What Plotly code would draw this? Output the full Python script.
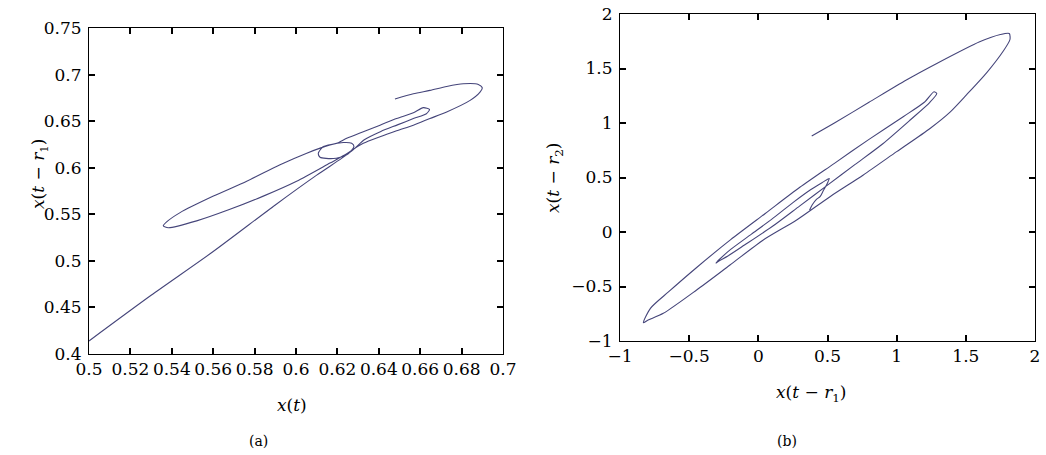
import plotly.graph_objects as go

# ---- Panel (a): x(t) vs x(t - r1) ----
a_x = [0.500, 0.530, 0.560, 0.590, 0.610, 0.622, 0.628,
       0.633, 0.641, 0.649, 0.657, 0.663, 0.6645,
       0.6615, 0.6567, 0.6486, 0.6406, 0.6325, 0.6245, 0.6196,
       0.6132, 0.6108, 0.6116, 0.6180, 0.6245, 0.6280, 0.6269, 0.6229,
       0.6164, 0.6052, 0.5923, 0.5762, 0.5601, 0.5440, 0.5375, 0.5359, 0.5383,
       0.5520, 0.5681, 0.5842, 0.6003, 0.6164, 0.6245, 0.6285,
       0.6325, 0.6406, 0.6486, 0.6567, 0.6647, 0.6728, 0.6841, 0.6889, 0.6900,
       0.6881, 0.6808, 0.6728, 0.6647, 0.6567, 0.6478]
a_y = [0.414, 0.463, 0.510, 0.560, 0.592, 0.610, 0.620,
       0.630, 0.639, 0.646, 0.653, 0.658, 0.6625,
       0.6645, 0.6589, 0.6528, 0.6457, 0.6387, 0.6316, 0.6262,
       0.6227, 0.6156, 0.6113, 0.6099, 0.6138, 0.6227, 0.6262, 0.6270,
       0.6245, 0.6156, 0.6032, 0.5855, 0.5695, 0.5518, 0.5418, 0.5376, 0.5355,
       0.5429, 0.5553, 0.5695, 0.5855, 0.6050, 0.6149, 0.6209,
       0.6262, 0.6333, 0.6397, 0.6457, 0.6528, 0.6599, 0.6723, 0.6812, 0.6858,
       0.6894, 0.6901, 0.6872, 0.6830, 0.6794, 0.6738]

# ---- Panel (b): x(t - r1) vs x(t - r2) ----
b_x = [0.37, 0.39, 0.42, 0.446, 0.47, 0.50, 0.513,
       0.47, 0.38, 0.25, 0.10, -0.05, -0.20, -0.28, -0.306,
       -0.29, -0.22, -0.10, 0.10, 0.30, 0.50, 0.70, 0.90, 1.10, 1.24, 1.29,
       1.27, 1.20, 1.05, 0.80, 0.55, 0.30, 0.05, -0.20, -0.45, -0.65, -0.78, -0.831,
       -0.80, -0.687, -0.446, -0.205, 0.036, 0.277, 0.518, 0.759, 1.00, 1.241, 1.386,
       1.506, 1.650, 1.771, 1.819, 1.814,
       1.75, 1.60, 1.29, 1.07, 0.80, 0.55, 0.386]
b_y = [0.20, 0.25, 0.30, 0.324, 0.38, 0.45, 0.492,
       0.46, 0.39, 0.27, 0.12, -0.02, -0.16, -0.25, -0.285,
       -0.27, -0.22, -0.12, 0.05, 0.24, 0.43, 0.62, 0.81, 1.03, 1.19, 1.27,
       1.287, 1.19, 1.06, 0.85, 0.63, 0.41, 0.17, -0.07, -0.33, -0.55, -0.70, -0.832,
       -0.81, -0.746, -0.532, -0.303, -0.073, 0.110, 0.324, 0.523, 0.737, 0.950, 1.100,
       1.260, 1.460, 1.660, 1.766, 1.821,
       1.812, 1.745, 1.546, 1.394, 1.19, 1.00, 0.881]

a_xticks = [0.5, 0.52, 0.54, 0.56, 0.58, 0.6, 0.62, 0.64, 0.66, 0.68, 0.7]
a_xtext = ["0.5", "0.52", "0.54", "0.56", "0.58", "0.6", "0.62", "0.64", "0.66", "0.68", "0.7"]
a_yticks = [0.4, 0.45, 0.5, 0.55, 0.6, 0.65, 0.7, 0.75]
a_ytext = ["0.4", "0.45", "0.5", "0.55", "0.6", "0.65", "0.7", "0.75"]
b_ticks = [-1, -0.5, 0, 0.5, 1, 1.5, 2]
b_text = ["\u22121", "\u22120.5", "0", "0.5", "1", "1.5", "2"]

FONT = "DejaVu Serif"
LINE = "#45457a"
W, H = 1046, 455

fig = go.Figure()
fig.add_trace(go.Scatter(x=a_x, y=a_y, mode="lines",
                         line=dict(color=LINE, width=1.1, shape="spline", smoothing=0.7),
                         xaxis="x", yaxis="y", showlegend=False, hoverinfo="skip"))
fig.add_trace(go.Scatter(x=b_x, y=b_y, mode="lines",
                         line=dict(color=LINE, width=1.1, shape="spline", smoothing=0.7),
                         xaxis="x2", yaxis="y2", showlegend=False, hoverinfo="skip"))

axis_common = dict(showline=True, linecolor="black", linewidth=1, mirror="allticks",
                   ticks="inside", ticklen=6, tickwidth=1.5, tickcolor="black",
                   showgrid=False, zeroline=False, automargin=False,
                   tickfont=dict(family=FONT, size=17, color="black"))

def px(v):
    return v / W

def py(v):
    return 1 - v / H

fig.update_layout(
    template="none",
    width=W, height=H,
    margin=dict(l=0, r=0, t=0, b=0, pad=0),
    paper_bgcolor="white", plot_bgcolor="white",
    font=dict(family=FONT, size=16, color="black"),
    xaxis=dict(domain=[px(89), px(503)], range=[0.5, 0.7], tickvals=a_xticks, ticktext=a_xtext,
               anchor="y", **axis_common),
    yaxis=dict(domain=[py(354), py(28)], range=[0.4, 0.75], tickvals=a_yticks, ticktext=a_ytext,
               anchor="x", ticklabelstandoff=3, **axis_common),
    xaxis2=dict(domain=[px(620), px(1035)], range=[-1, 2], tickvals=b_ticks, ticktext=b_text,
                anchor="y2", **axis_common),
    yaxis2=dict(domain=[py(341), py(14)], range=[-1, 2], tickvals=b_ticks, ticktext=b_text,
                anchor="x2", ticklabelstandoff=3, **axis_common),
)

def ann(text, x, y, size=17, angle=0):
    fig.add_annotation(text=text, x=px(x), y=py(y), xref="paper", yref="paper",
                       showarrow=False, textangle=angle, xanchor="center", yanchor="middle",
                       font=dict(family=FONT, size=size, color="black"))

ann("<i>x</i>(<i>t</i>)", 292, 405)
ann("<i>x</i>(<i>t</i> \u2212 <i>r</i><sub>1</sub>)", 39, 174, angle=-90)
ann("<i>x</i>(<i>t</i> \u2212 <i>r</i><sub>1</sub>)", 811, 393)
ann("<i>x</i>(<i>t</i> \u2212 <i>r</i><sub>2</sub>)", 555, 178, angle=-90)
ann("(a)", 258, 441, size=14)
ann("(b)", 787, 441, size=14)

fig.write_html("out.html", config={"displayModeBar": False},
               post_script="document.body.style.margin='0px';document.body.style.overflow='hidden';")
